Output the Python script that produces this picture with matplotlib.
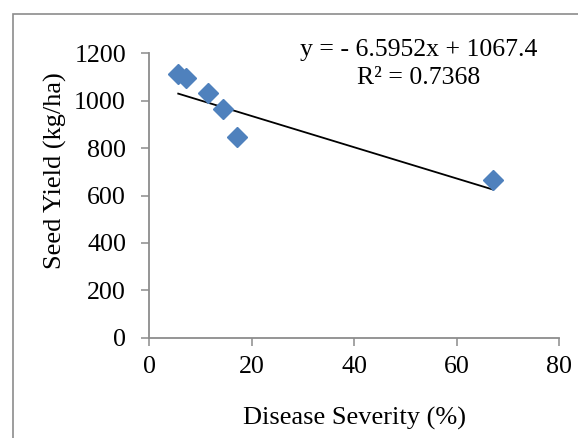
import matplotlib
matplotlib.use("Agg")
import matplotlib.pyplot as plt
from matplotlib.patches import Rectangle
import numpy as np

plt.rcParams['font.family'] = ['Liberation Serif', 'DejaVu Serif']

# Data
disease_severity = [5.7, 7.3, 11.5, 14.5, 17.1, 67.0]
seed_yield = [1113, 1094, 1031, 967, 845, 667]
trend_slope = -6.5952
trend_intercept = 1067.4
r_squared = 0.7368
x_ticks = [0, 20, 40, 60, 80]
y_ticks = [0, 200, 400, 600, 800, 1000, 1200]

W, H = 578, 438
fig = plt.figure(figsize=(W / 100, H / 100), dpi=100)

# outer chart frame (extends beyond right/bottom edges)
fig.patches.append(Rectangle((12.7 / W, -0.1), 1.2, (H - 14) / H + 0.1,
                             transform=fig.transFigure, fill=False,
                             edgecolor='#8c8c8c', linewidth=1.2))

ax = fig.add_axes([149 / W, (H - 337.7) / H, (559.3 - 149) / W, (337.7 - 53.3) / H])

ax.plot(disease_severity, seed_yield, linestyle='none', marker='D', markersize=10,
        color='#4F81BD', markeredgecolor='#4F81BD', zorder=3)

xt = np.array([min(disease_severity), max(disease_severity)])
ax.plot(xt, trend_slope * xt + trend_intercept, color='black', linewidth=1.3, zorder=2)

ax.set_xlim(0, 80)
ax.set_ylim(0, 1200)
ax.set_xticks(x_ticks)
ax.set_yticks(y_ticks)
for s in ['top', 'right']:
    ax.spines[s].set_visible(False)
for s in ['left', 'bottom']:
    ax.spines[s].set_color('#8c8c8c')
    ax.spines[s].set_linewidth(1.3)
ax.tick_params(axis='both', direction='out', length=5.5, width=1.1, color='#8c8c8c',
               labelsize=18.7, labelcolor='black')
ax.tick_params(axis='x', pad=8)
ax.tick_params(axis='y', pad=11)

ax.set_xlabel('Disease Severity (%)', fontsize=19)
ax.xaxis.set_label_coords(0.5, (337.7 - 418) / (337.7 - 53.3), transform=ax.transAxes)
ax.xaxis.label.set_verticalalignment('center')
ax.set_ylabel('Seed Yield (kg/ha)', fontsize=19)
ax.yaxis.set_label_coords((55 - 149) / (559.3 - 149), (337.7 - 171) / (337.7 - 53.3),
                          transform=ax.transAxes)
ax.yaxis.label.set_verticalalignment('center')

fig.text(419 / W, 1 - 50 / H, f'y = - {abs(trend_slope):.4f}x + {trend_intercept}',
         ha='center', va='center', fontsize=18.5)
fig.text(419 / W, 1 - 78 / H, f'R² = {r_squared}', ha='center', va='center', fontsize=18.5)

fig.savefig('out.png', dpi=100)
